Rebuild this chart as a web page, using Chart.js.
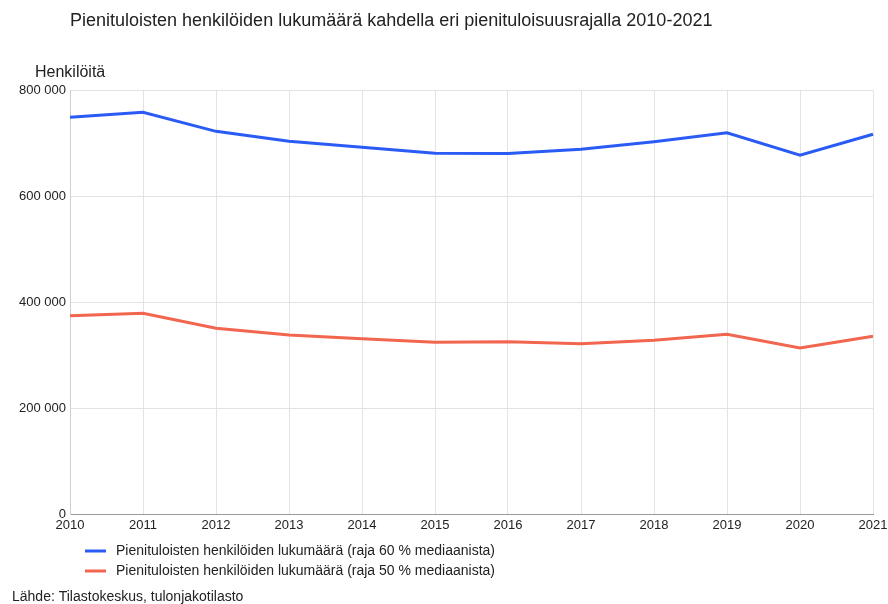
<!DOCTYPE html>
<html>
<head>
<meta charset="utf-8">
<script src="https://cdn.jsdelivr.net/npm/chart.js@4.4.1/dist/chart.umd.min.js"></script>
<style>
  html, body { margin: 0; padding: 0; background: #fff; }
  #wrap { position: relative; width: 888px; height: 604px; }
</style>
</head>
<body>
<div id="wrap"><canvas id="lowIncomeChart" width="888" height="604"></canvas></div>
<script>
// data
const years = ['2010', '2011', '2012', '2013', '2014', '2015', '2016', '2017', '2018', '2019', '2020', '2021'];
const raja60 = [748500, 757900, 722000, 703200, 691900, 680600, 680400, 688000, 702500, 719400, 676800, 716400];
const raja50 = [374000, 378700, 350400, 337700, 330800, 324000, 325000, 321300, 327700, 339000, 313200, 335300];
const yTicks = [0, 200000, 400000, 600000, 800000];

const titleText = 'Pienituloisten henkilöiden lukumäärä kahdella eri pienituloisuusrajalla 2010-2021';
const yTitleText = 'Henkilöitä';
const sourceText = 'Lähde: Tilastokeskus, tulonjakotilasto';

const fontFamily = '"Liberation Sans", Arial, sans-serif';

function fmt(v) {
    return String(v).replace(/\B(?=(\d{3})+(?!\d))/g, ' ');
}

// extra texts and legend drawn around the plot
const decorations = {
    id: 'decorations',
    afterDraw(chart) {
        const c = chart.ctx;
        c.save();
        c.fillStyle = '#222';
        c.textBaseline = 'middle';
        c.textAlign = 'left';
        c.font = '18px ' + fontFamily;
        c.fillText(titleText, 70, 21);
        c.font = '16px ' + fontFamily;
        c.fillText(yTitleText, 35, 73);
        c.font = '14px ' + fontFamily;
        chart.data.datasets.forEach((ds, i) => {
            let y = 551 + i * 20;
            c.strokeStyle = ds.borderColor;
            c.lineWidth = 3;
            c.beginPath();
            c.moveTo(85, y);
            c.lineTo(106, y);
            c.stroke();
            c.fillStyle = '#222';
            c.fillText(ds.label, 116, y);
        });
        c.fillText(sourceText, 12, 597);
        c.restore();
    }
};

let ctx = document.getElementById('lowIncomeChart').getContext('2d');
let chart = new Chart(ctx, {
    type: 'line',
    data: {
        labels: years,
        datasets: [{
            label: 'Pienituloisten henkilöiden lukumäärä (raja 60 % mediaanista)',
            data: raja60,
            borderColor: '#2a5cf5',
            borderWidth: 3,
            pointRadius: 0,
            tension: 0,
            fill: false
        }, {
            label: 'Pienituloisten henkilöiden lukumäärä (raja 50 % mediaanista)',
            data: raja50,
            borderColor: '#f2654f',
            borderWidth: 3,
            pointRadius: 0,
            tension: 0,
            fill: false
        }]
    },
    options: {
        responsive: false,
        animation: false,
        layout: { padding: { top: 90, right: 15, bottom: 0, left: 0 } },
        plugins: {
            legend: { display: false },
            title: { display: false },
            tooltip: { enabled: false }
        },
        scales: {
            x: {
                offset: false,
                grid: { color: '#e3e3e3', drawTicks: false },
                border: { color: '#9a9a9a' },
                ticks: {
                    color: '#222',
                    padding: 4,
                    maxRotation: 0,
                    autoSkip: false,
                    font: { family: fontFamily, size: 13 }
                },
                afterFit: function (scale) { scale.height = 90; scale.paddingRight = 0; }
            },
            y: {
                min: 0,
                max: 800000,
                afterBuildTicks: function (scale) {
                    scale.ticks = yTicks.map(v => ({ value: v }));
                },
                grid: { color: '#e3e3e3', drawTicks: false },
                border: { color: '#cfcfcf' },
                ticks: {
                    color: '#222',
                    padding: 4,
                    font: { family: fontFamily, size: 13 },
                    callback: v => fmt(v)
                },
                afterFit: function (scale) { scale.width = 70; }
            }
        }
    },
    plugins: [decorations]
});
</script>
</body>
</html>
